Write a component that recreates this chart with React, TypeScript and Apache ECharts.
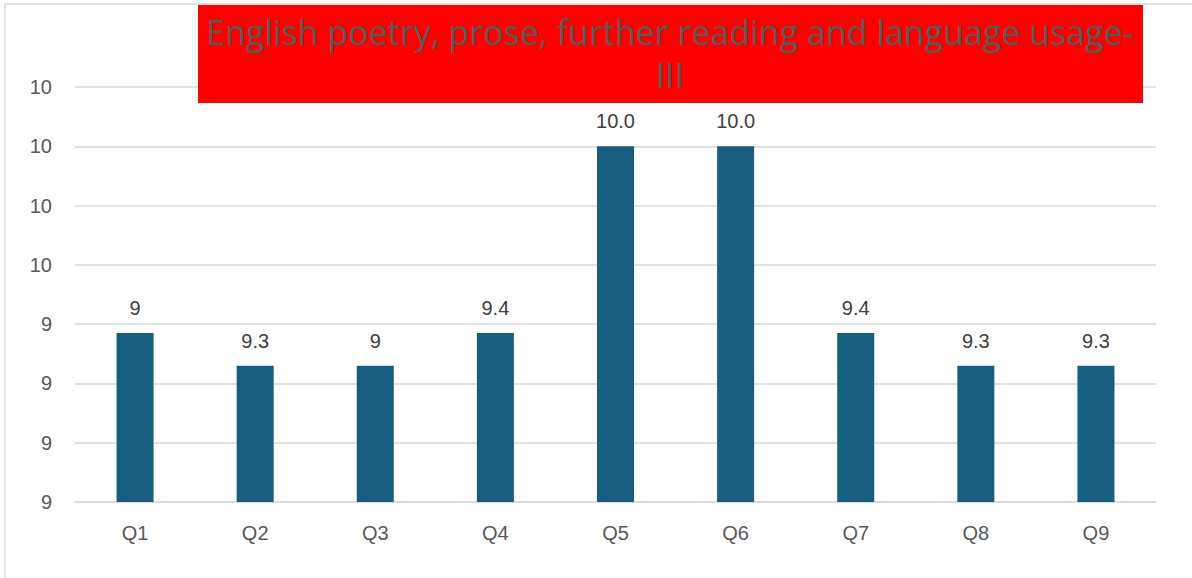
import React, { useEffect, useRef } from "react";
import * as echarts from "echarts";

const categories = ["Q1", "Q2", "Q3", "Q4", "Q5", "Q6", "Q7", "Q8", "Q9"];
const values = [9.37, 9.26, 9.26, 9.37, 10.0, 10.0, 9.37, 9.26, 9.26];
const valueLabels = ["9", "9.3", "9", "9.4", "10.0", "10.0", "9.4", "9.3", "9.3"];
const titleText = "English poetry, prose, further reading and language usage-\nIII";
const yMin = 8.8;
const yMax = 10.2;
const yInterval = 0.2;

const labelFont = "Liberation Sans, Arial, sans-serif";

export default function App() {
  const ref = useRef<HTMLDivElement>(null);
  useEffect(() => {
    if (!ref.current) return;
    const chart = echarts.init(ref.current, undefined, { renderer: "svg" });
    chart.setOption({
      animation: false,
      backgroundColor: "#ffffff",
      grid: { left: 75, right: 36, top: 87, bottom: 76, containLabel: false },
      xAxis: {
        type: "category",
        data: categories,
        axisLine: { show: true, lineStyle: { color: "#d9d9d9", width: 1.5 } },
        axisTick: { show: false },
        axisLabel: {
          color: "#595959",
          fontSize: 20,
          fontFamily: labelFont,
          margin: 21,
        },
      },
      yAxis: {
        type: "value",
        min: yMin,
        max: yMax,
        interval: yInterval,
        axisLine: { show: false },
        axisTick: { show: false },
        splitLine: { lineStyle: { color: "#d9d9d9", width: 1.5 } },
        axisLabel: {
          color: "#595959",
          fontSize: 20,
          fontFamily: labelFont,
          margin: 23,
          formatter: (v: number) => String(Math.round(v)),
        },
      },
      series: [
        {
          type: "bar",
          data: values,
          barWidth: 37,
          itemStyle: { color: "#175E7F" },
          label: {
            show: true,
            position: "top",
            distance: 15,
            color: "#404040",
            fontSize: 20,
            fontFamily: labelFont,
            formatter: (p: any) => valueLabels[p.dataIndex],
          },
        },
      ],
      graphic: [
        {
          type: "rect",
          shape: { x: 5, y: 4, width: 1200, height: 620 },
          style: { fill: "none", stroke: "#d9d9d9", lineWidth: 1.5 },
          silent: true,
          z: 100,
        },
        {
          type: "rect",
          shape: { x: 198, y: 5, width: 945, height: 98 },
          style: { fill: "#ff0000" },
          z: 101,
        },
        {
          type: "text",
          x: 670,
          y: 10,
          z: 102,
          style: {
            text: titleText,
            fill: "#595959",
            fontSize: 34,
            fontFamily: "Open Sans, sans-serif",
            align: "center",
            verticalAlign: "top",
            lineHeight: 43,
          },
        },
      ],
    });
    return () => chart.dispose();
  }, []);
  return (
    <div
      ref={ref}
      style={{ position: "fixed", left: 0, top: 0, width: 1192, height: 578 }}
    />
  );
}
